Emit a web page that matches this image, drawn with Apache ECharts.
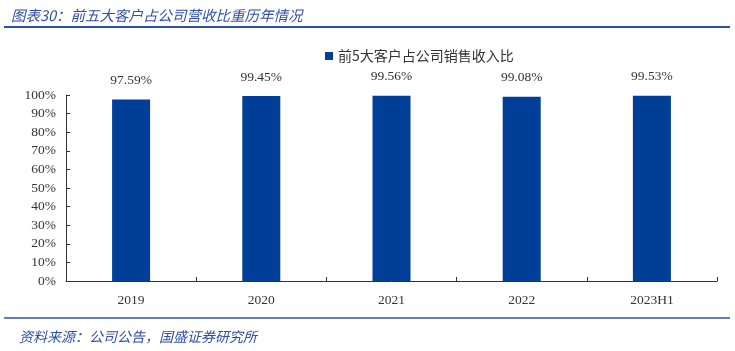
<!DOCTYPE html>
<html>
<head>
<meta charset="utf-8">
<script src="https://cdn.jsdelivr.net/npm/echarts@6/dist/echarts.min.js"></script>
<style>
    html, body { margin: 0; padding: 0; background: #fff; }
    #main { width: 735px; height: 351px; }
</style>
</head>
<body>
<div id="main"></div>
<script>
var years = ['2019', '2020', '2021', '2022', '2023H1'];
var top5Share = [97.59, 99.45, 99.56, 99.08, 99.53];
var yTicks = [0, 10, 20, 30, 40, 50, 60, 70, 80, 90, 100];

var blue = '#003E98';
var headBlue = '#2F4FA0';

var myChart = echarts.init(document.getElementById('main'));

var option = {
    backgroundColor: '#fff',
    animation: false,
    title: [{
        text: '图表30：前五大客户占公司营收比重历年情况',
        left: 6,
        top: 3,
        textStyle: {
            color: headBlue,
            fontSize: 14.5,
            fontStyle: 'italic',
            fontWeight: 'normal',
            fontFamily: 'Noto Sans CJK SC'
        }
    }, {
        text: '资料来源：公司公告，国盛证券研究所',
        left: 14,
        top: 325,
        textStyle: {
            color: headBlue,
            fontSize: 14,
            fontStyle: 'italic',
            fontWeight: 'normal',
            fontFamily: 'Noto Sans CJK SC'
        }
    }],
    graphic: [{
        type: 'line',
        shape: { x1: 4, y1: 27, x2: 730, y2: 27 },
        style: { stroke: headBlue, lineWidth: 2 }
    }, {
        type: 'line',
        shape: { x1: 4, y1: 318, x2: 730, y2: 318 },
        style: { stroke: headBlue, lineWidth: 1.5 }
    }],
    legend: {
        data: ['前5大客户占公司销售收入比'],
        left: 320,
        top: 44,
        itemWidth: 8,
        itemHeight: 8,
        icon: 'rect',
        itemGap: 4,
        textStyle: {
            color: '#333',
            fontSize: 14,
            fontFamily: 'Noto Sans CJK SC'
        }
    },
    grid: {
        left: 66,
        right: 18,
        top: 95,
        bottom: 70,
        containLabel: false
    },
    xAxis: {
        type: 'category',
        data: years,
        axisLine: { lineStyle: { color: '#333', width: 1 } },
        axisTick: { show: true, inside: true, length: 4, lineStyle: { color: '#333' } },
        axisLabel: {
            color: '#333',
            fontSize: 13.5,
            margin: 12,
            fontFamily: 'Liberation Serif'
        }
    },
    yAxis: {
        type: 'value',
        min: yTicks[0],
        max: yTicks[yTicks.length - 1],
        interval: 10,
        splitLine: { show: false },
        axisLine: { show: true, lineStyle: { color: '#333', width: 1 } },
        axisTick: { show: true, inside: true, length: 4, lineStyle: { color: '#333' } },
        axisLabel: {
            color: '#333',
            fontSize: 13.5,
            margin: 10,
            fontFamily: 'Liberation Serif',
            formatter: '{value}%'
        }
    },
    series: [{
        name: '前5大客户占公司销售收入比',
        type: 'bar',
        data: top5Share,
        barWidth: 38,
        itemStyle: { color: blue },
        label: {
            show: true,
            position: 'top',
            distance: 12,
            color: '#333',
            fontSize: 13.5,
            fontFamily: 'Liberation Serif',
            formatter: function (p) {
                return p.value.toFixed(2) + '%';
            }
        }
    }]
};

myChart.setOption(option);
</script>
</body>
</html>
